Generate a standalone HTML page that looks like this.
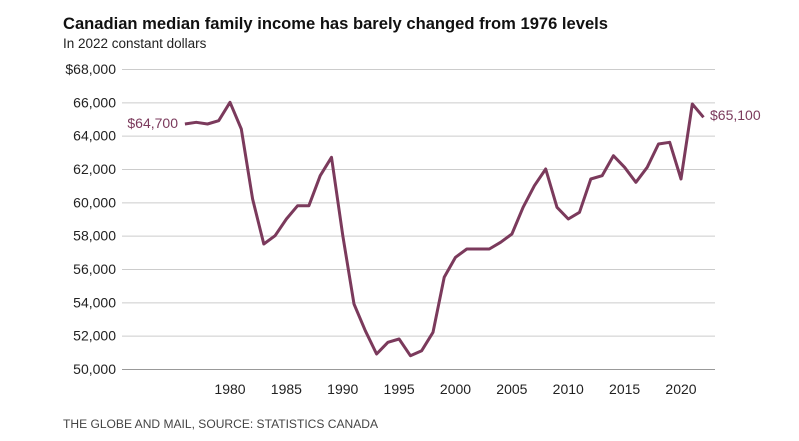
<!DOCTYPE html>
<html><head><meta charset="utf-8"><style>
body{margin:0;background:#fff;width:799px;height:436px;overflow:hidden;font-family:"Liberation Sans",sans-serif}
</style></head><body>
<svg id="s" width="799" height="436" xmlns="http://www.w3.org/2000/svg" font-family="Liberation Sans, sans-serif">
<text x="63" y="29" font-size="17" font-weight="bold" fill="#111" textLength="545" lengthAdjust="spacingAndGlyphs">Canadian median family income has barely changed from 1976 levels</text>
<text x="63" y="48" font-size="13.5" fill="#222">In 2022 constant dollars</text>
<g id="grid" stroke="#cccccc" stroke-width="1"></g>
<g id="yl" font-size="14" fill="#222" text-anchor="end"></g>
<g id="xl" font-size="14" fill="#222" text-anchor="middle"></g>
<polyline id="ln" fill="none" stroke="#7b3a5c" stroke-width="3" stroke-linejoin="round"/>
<text x="178" y="128" font-size="14" fill="#7b3a5c" text-anchor="end">$64,700</text>
<text x="710" y="120" font-size="14" fill="#7b3a5c">$65,100</text>
<text x="63" y="428" font-size="11.5" fill="#444" textLength="315" lengthAdjust="spacingAndGlyphs">THE GLOBE AND MAIL, SOURCE: STATISTICS CANADA</text>
</svg>
<script>
var ns="http://www.w3.org/2000/svg";
function X(y){return 184.9+(y-1976)*11.275}
function Y(v){return 369-(v-50000)*0.016667}
var g=document.getElementById('grid'),yl=document.getElementById('yl'),xl=document.getElementById('xl');
for(var v=50000;v<=68000;v+=2000){var l=document.createElementNS(ns,'line');l.setAttribute('x1',122);l.setAttribute('x2',715);l.setAttribute('y1',Y(v)+0.5);l.setAttribute('y2',Y(v)+0.5);if(v==50000)l.setAttribute('stroke','#999');g.appendChild(l);
var t=document.createElementNS(ns,'text');t.setAttribute('x',116);t.setAttribute('y',Y(v)+5);t.textContent=(v==68000?'$':'')+(v/1000)+',000';yl.appendChild(t);}
for(var y=1980;y<=2020;y+=5){var t=document.createElementNS(ns,'text');t.setAttribute('x',X(y));t.setAttribute('y',394);t.textContent=y;xl.appendChild(t);}
var d=[64700,64800,64700,64900,66000,64400,60200,57500,58000,59000,59800,59800,61600,62700,58000,53900,52300,50900,51600,51800,50800,51100,52200,55500,56700,57200,57200,57200,57600,58100,59700,61000,62000,59700,59000,59400,61400,61600,62800,62100,61200,62100,63500,63600,61400,65900,65100];
var p=d.map(function(v,i){return X(1976+i).toFixed(1)+','+Y(v).toFixed(1)}).join(' ');
document.getElementById('ln').setAttribute('points',p);
</script>
</body></html>
